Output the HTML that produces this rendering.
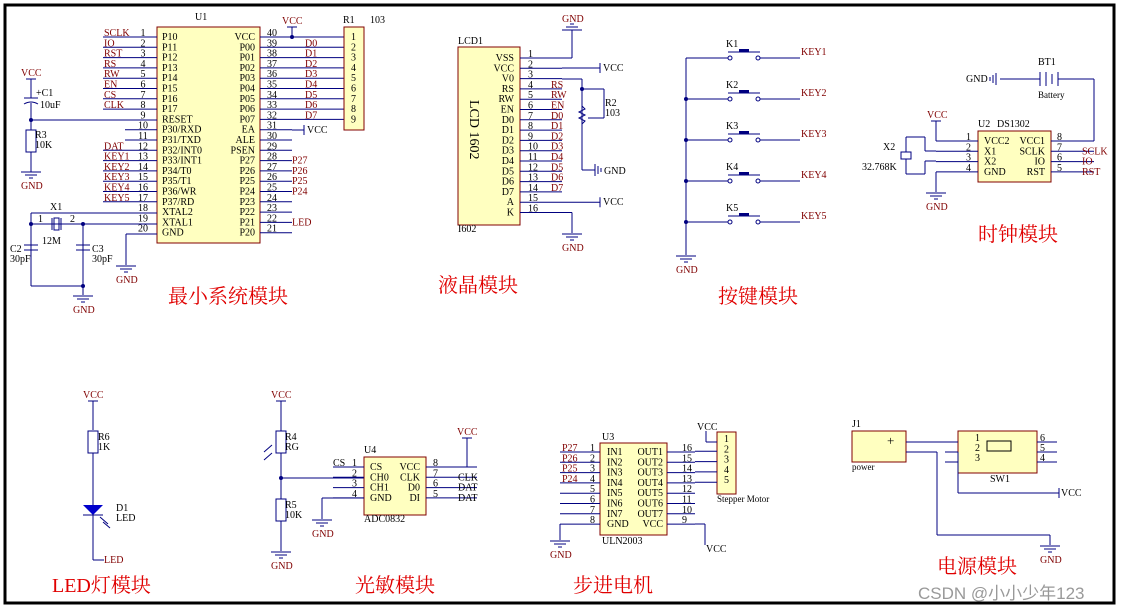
<!DOCTYPE html>
<html><head><meta charset="utf-8">
<style>
html,body{margin:0;padding:0;background:#fff;}
svg{display:block;}
text{font-family:"Liberation Serif","Noto Serif CJK SC",serif;font-size:10px;fill:#000;}
.r{fill:#800000;}
.t{font-family:"Liberation Serif","Noto Serif CJK SC","Noto Sans CJK SC",serif;font-size:20px;fill:#e00000;}
.w{stroke:#000080;stroke-width:1;fill:none;}
.b{fill:#ffffc0;stroke:#800000;stroke-width:1;}
</style></head><body>
<svg id="s" width="1124" height="613" viewBox="0 0 1124 613" xmlns="http://www.w3.org/2000/svg">
<rect x="5" y="5" width="1109" height="598" fill="none" stroke="#000" stroke-width="3"/>
<g id="g"></g>
<text class="t" x="168" y="303">最小系统模块</text>
<text class="t" x="438" y="292">液晶模块</text>
<text class="t" x="718" y="303">按键模块</text>
<text class="t" x="978" y="241">时钟模块</text>
<text class="t" x="52" y="592">LED灯模块</text>
<text class="t" x="355" y="592">光敏模块</text>
<text class="t" x="573" y="592">步进电机</text>
<text class="t" x="937" y="573">电源模块</text>
<text x="918" y="599" style="font-family:'Liberation Sans','Noto Sans CJK SC',sans-serif;font-size:17px;fill:#999">CSDN @小小少年123</text>
</svg>
<script>
var g=document.getElementById('g'),h='';
function L(x1,y1,x2,y2,c){h+='<line x1="'+x1+'" y1="'+y1+'" x2="'+x2+'" y2="'+y2+'" stroke="'+(c||'#000080')+'"/>';}
function T(x,y,s,cl,extra){h+='<text x="'+x+'" y="'+y+'"'+(cl?' class="'+cl+'"':'')+(extra||'')+'>'+s+'</text>';}
function B(x,y,w,hh){h+='<rect class="b" x="'+x+'" y="'+y+'" width="'+w+'" height="'+hh+'"/>';}
function D(x,y){h+='<circle cx="'+x+'" cy="'+y+'" r="2" fill="#000080"/>';}
function GND(x,y,lbl){L(x-10,y,x+10,y);L(x-6,y+3,x+6,y+3);L(x-2,y+6,x+2,y+6);if(lbl!==false)T(x-10,y+17,'GND','r');}
function VCC(x,y){T(x-10,y,'VCC','r');L(x-5,y+3,x+5,y+3);}
function RES(x,y1,y2){h+='<rect x="'+(x-5)+'" y="'+y1+'" width="10" height="'+(y2-y1)+'" fill="#fff" stroke="#000080"/>';}
// U1
B(157,27,103,216);T(195,20,'U1');
var ln=['P10','P11','P12','P13','P14','P15','P16','P17','RESET','P30/RXD','P31/TXD','P32/INT0','P33/INT1','P34/T0','P35/T1','P36/WR','P37/RD','XTAL2','XTAL1','GND'];
var ll=['SCLK','IO','RST','RS','RW','EN','CS','CLK','','','','DAT','KEY1','KEY2','KEY3','KEY4','KEY5','','',''];
var rn=['VCC','P00','P01','P02','P03','P04','P05','P06','P07','EA','ALE','PSEN','P27','P26','P25','P24','P23','P22','P21','P20'];
var rl=['','','','','','','','','','','','','P27','P26','P25','P24','','','LED',''];
var dl=['','D0','D1','D2','D3','D4','D5','D6','D7'];
for(var i=0;i<20;i++){var y=37+i*10.3;
 var x0=ll[i]?103:125; if(i==8||i>=17)x0=157; L(x0,y,157,y);
 T(143,y-1,i+1,'',' text-anchor="middle"');T(162,y+3,ln[i]);
 if(ll[i])T(104,y-1,ll[i],'r');
 L(260,y,292,y);T(272,y-1,40-i,'',' text-anchor="middle"');T(255,y+3,rn[i],'',' text-anchor="end"');
 if(rl[i])T(292,y+3,rl[i],'r');
 if(i>=1&&i<=8){L(292,y,344,y);T(305,y-1,dl[i],'r');}
}
L(292,37,344,37);D(292,37);L(292,27,292,37);T(282,24,'VCC','r');L(287,27,297,27);
L(292,130,304,130);L(304,125,304,135);T(307,133,'VCC');
B(344,27,20,103);T(343,23,'R1');T(370,23,'103');
for(var k=0;k<9;k++)T(351,40+k*10.3,k+1);
// RESET / C1 / R3
VCC(31,76);L(31,79,31,98);L(24,98,38,98);h+='<path d="M24 104 Q31 100 38 104" class="w"/>';T(36,96,'+C1');T(40,108,'10uF');
L(31,103,31,130);D(31,120);L(31,120,157,120);RES(31,130,152);T(35,138,'R3');T(35,148,'10K');L(31,152,31,172);GND(31,172);
// crystal
L(31,213,157,213);L(31,224,157,224);D(31,224);D(83,224);L(31,213,31,244);
h+='<rect x="54" y="218" width="5" height="12" fill="none" stroke="#000080"/>';L(52,218,52,230);L(61,218,61,230);
T(50,210,'X1');T(38,222,'1');T(70,222,'2');T(42,244,'12M');
L(31,224,31,286);L(24,245,38,245);L(24,250,38,250);T(10,252,'C2');T(10,262,'30pF');
L(83,224,83,295);L(76,245,90,245);L(76,250,90,250);T(92,252,'C3');T(92,262,'30pF');
L(31,286,83,286);D(83,286);GND(83,296);
L(157,234,126,234);L(126,234,126,265);GND(126,266);
// LCD
B(458,47,62,178);T(458,44,'LCD1');T(458,232,'I602');
h+='<text x="470" y="100" transform="rotate(90 470 100)" style="font-size:14px">LCD 1602</text>';
var lp=['VSS','VCC','V0','RS','RW','EN','D0','D1','D2','D3','D4','D5','D6','D7','A','K'];
var lr=['','','','RS','RW','EN','D0','D1','D2','D3','D4','D5','D6','D7','',''];
for(i=0;i<16;i++){y=58+i*10.3;L(520,y,562,y);T(514,y+3,lp[i],'',' text-anchor="end"');T(528,y-1,i+1);if(lr[i])T(551,y-1,lr[i],'r');}
L(562,58,572,58);L(572,58,572,30);L(562,30,582,30);L(566,27,578,27);L(570,24,574,24);T(562,22,'GND','r');
L(562,68,600,68);L(600,63,600,73);T(603,71,'VCC');
L(562,79,582,79);L(582,79,582,170);D(582,89);L(582,89,604,89);L(604,89,604,118);L(604,118,588,118);
h+='<path d="M582 106 l3 3 -6 3 6 3 -6 3 6 3 -3 3" class="w"/>';T(605,106,'R2');T(605,116,'103');
L(582,170,595,170);L(595,164,595,176);L(598,166,598,174);L(601,168,601,172);T(604,174,'GND');
y=58+14*10.3;L(562,y,600,y);L(600,y-5,600,y+5);T(603,y+3,'VCC');
y=58+15*10.3;L(520,y,572,y);L(572,y,572,233);GND(572,234);
// Keys
var ky=[58,99,140,181,222];L(686,58,686,255);GND(686,256);
for(i=0;i<5;i++){y=ky[i];L(686,y,728,y);h+='<circle cx="730" cy="'+y+'" r="2" fill="#fff" stroke="#000080"/><circle cx="758" cy="'+y+'" r="2" fill="#fff" stroke="#000080"/>';
 L(728,y-6,760,y-6);h+='<rect x="739" y="'+(y-9)+'" width="10" height="3" fill="#000080"/>';L(760,y,800,y);T(801,y-3,'KEY'+(i+1),'r');T(726,y-11,'K'+(i+1));if(i>0)D(686,y);}
// Clock
B(978,131,73,51);T(978,127,'U2');T(997,127,'DS1302');
var cl=['VCC2','X1','X2','GND'],cr=['VCC1','SCLK','IO','RST'],cn=['SCLK','IO','RST'];
for(i=0;i<4;i++){y=141+i*10.3;L(936,y,978,y);L(1051,y,1094,y);T(966,y-1,i+1);T(984,y+3,cl[i]);T(1045,y+3,cr[i],'',' text-anchor="end"');T(1057,y-1,8-i);if(i>0)T(1082,y+3,cn[i-1],'r');}
L(936,141,936,121);L(931,121,941,121);T(927,118,'VCC','r');
L(936,151,925,151);L(925,151,925,137);L(925,137,906,137);L(906,137,906,160);L(906,160,906,174);L(906,174,925,174);L(925,174,925,161);L(925,161,936,161);
h+='<rect x="901" y="152" width="10" height="7" fill="#fff" stroke="#000080"/>';T(883,150,'X2');T(862,170,'32.768K');
L(936,172,936,192);GND(936,193);
L(1094,141,1094,79);L(1094,79,1058,79);L(1058,72,1058,86);L(1052,74,1052,84);L(1046,72,1046,86);L(1040,72,1040,86);L(1040,79,1000,79);
L(996,73,996,85);L(993,75,993,83);L(990,77,990,81);T(966,82,'GND');T(1038,65,'BT1');T(1038,98,'Battery','',' style="font-size:9px"');
// LED module
VCC(93,398);L(93,401,93,430);RES(93,431,453);T(98,440,'R6');T(98,450,'1K');L(93,453,93,505);
h+='<polygon points="83,505 103,505 93,515" fill="#0000cc"/>';L(83,515,103,515);L(100,517,108,524);L(103,522,110,528);T(116,511,'D1');T(116,521,'LED');
L(93,515,93,560);L(93,560,104,560);T(104,563,'LED','r');
// light
VCC(281,398);L(281,401,281,431);RES(281,431,453);T(285,440,'R4');T(285,450,'RG');L(264,452,272,445);L(264,460,272,453);
L(281,453,281,499);D(281,478);L(281,478,364,478);RES(281,499,521);T(285,508,'R5');T(285,518,'10K');L(281,521,281,551);GND(281,552);
B(364,457,62,58);T(364,453,'U4');T(364,522,'ADC0832');
var al=['CS','CH0','CH1','GND'],ar=['VCC','CLK','D0','DI'],an=['8','7','6','5'],ax=['','CLK','DAT','DAT'];
for(i=0;i<4;i++){y=467+i*10.3;L(333,y,364,y);T(352,y-1,i+1);T(370,y+3,al[i]);T(420,y+3,ar[i],'',' text-anchor="end"');L(426,y,477,y);T(433,y-1,an[i]);if(ax[i])T(458,y+3,ax[i]);}
T(333,466,'CS');L(364,498,322,498);L(322,498,322,519);GND(322,520);L(467,467,467,438);VCC(467,435);
// ULN2003
B(600,443,67,92);T(602,440,'U3');T(602,544,'ULN2003');
for(i=0;i<8;i++){y=452+i*10.3;L(560,y,600,y);T(590,y-1,i+1);T(607,y+3,i<7?'IN'+(i+1):'GND');T(663,y+3,i<7?'OUT'+(i+1):'VCC','',' text-anchor="end"');L(667,y,695,y);T(682,y-1,i<7?16-i:9);if(i<4)T(562,y-1,'P2'+(7-i),'r');}
L(560,524,560,540);GND(560,541);L(695,524,705,524);L(705,524,705,545);T(706,552,'VCC');
B(717,432,19,62);for(i=0;i<5;i++){T(724,442+i*10.3,i+1);if(i>0)L(695,441+i*10.3,717,441+i*10.3);}
L(706,431,706,442);L(706,442,717,442);T(697,430,'VCC');T(717,502,'Stepper Motor','',' style="font-size:9px"');
// power
B(852,431,54,31);T(852,427,'J1');T(852,470,'power','',' style="font-size:9px"');T(887,445,'+','',' style="font-size:13px"');
L(906,442,958,442);L(906,452,937,452);L(937,452,937,535);L(937,535,1050,535);L(1050,535,1050,545);GND(1050,546);
B(958,431,79,42);h+='<rect x="987" y="441" width="24" height="10" fill="none" stroke="#000"/>';T(990,482,'SW1');
for(i=0;i<3;i++){y=442+i*10;L(945,y,958,y);L(1037,y,1057,y);T(975,y-1,i+1);T(1040,y-1,6-i);}
L(958,452,958,493);L(958,493,1059,493);L(1059,488,1059,498);T(1061,496,'VCC');
g.innerHTML=h;
</script>
</body></html>
